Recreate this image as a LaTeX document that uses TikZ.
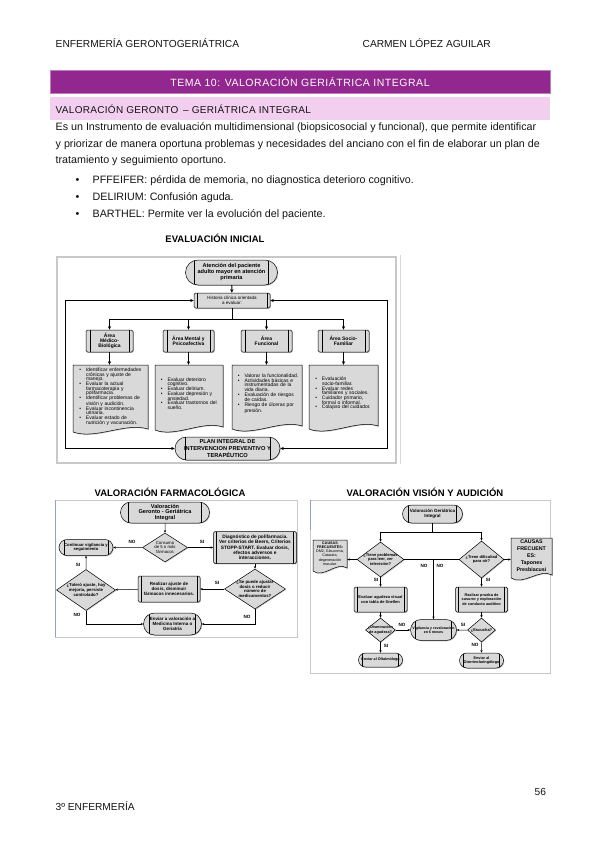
\documentclass[tikz,border=0pt]{standalone}
\usepackage{fontspec}
\setmainfont{Liberation Sans}
\newfontfamily\spacedfont[LetterSpace=5]{Liberation Sans}
\newfontfamily\pinkfont[LetterSpace=3]{Liberation Sans}
\usetikzlibrary{shapes.geometric,shapes.misc,arrows.meta,shadows,calc}
\definecolor{purplebar}{HTML}{92278F}
\definecolor{pinkbar}{HTML}{F2CEEF}
\definecolor{boxgray}{HTML}{D9D9D9}
\definecolor{framegray}{HTML}{C8C8C8}
\definecolor{textdark}{HTML}{141414}
\definecolor{edgeblue}{HTML}{8FA3C4}
\newcommand\bi{\par\noindent\llap{\textbullet\hspace{5pt}}}
\newcommand\nohy{\hyphenpenalty=10000\relax\exhyphenpenalty=10000\relax}
\newcommand\docshape[4]{%
  \pgfmathsetmacro\dxa{#1+0.3*(#3-#1)}%
  \pgfmathsetmacro\dxb{#3-0.3*(#3-#1)}%
  \draw[docsty] (#1,#2) -- (#3,#2) -- (#3,{#4-3}) .. controls (\dxb,{#4-10}) and (\dxa,{#4+8}) .. (#1,#4) -- cycle;}
\begin{document}
\begin{tikzpicture}[x=1pt,y=-1pt,
  every node/.style={inner sep=0.5pt, align=center, text=black},
  dshadow/.style={drop shadow={shadow xshift=0.8pt,shadow yshift=-0.8pt,fill=black!45}},
  bars/.style={path picture={
    \draw[line width=0.35pt] ([xshift=#1]path picture bounding box.north west) -- ([xshift=#1]path picture bounding box.south west);
    \draw[line width=0.35pt] ([xshift=-#1]path picture bounding box.north east) -- ([xshift=-#1]path picture bounding box.south east);}},
  pill/.style={rounded rectangle, draw, line width=0.5pt, fill=boxgray, dshadow},
  proc/.style={rectangle, rounded corners=1.5pt, draw, line width=0.5pt, fill=boxgray, dshadow},
  dia/.style={diamond, draw, line width=0.5pt, fill=boxgray, inner sep=-2pt, dshadow},
  docsty/.style={draw, line width=0.5pt, fill=boxgray, dshadow},
  doctxt/.style={font=\fontsize{5}{4.7}\selectfont, align=left, inner sep=0pt},
  arr/.style={-{Stealth[length=2.6pt,width=2.2pt]}, line width=0.5pt},
  tarr/.style={-{Stealth[length=3.6pt,width=3.2pt]}, line width=1pt},
  tboth/.style={{Stealth[length=3.6pt,width=3.2pt]}-{Stealth[length=3.6pt,width=3.2pt]}, line width=1pt},
  lab/.style={font=\fontsize{4.6}{5}\selectfont\bfseries},
  pagetxt/.style={anchor=west, text=textdark, font=\fontsize{10.2}{12}\selectfont},
  bodytxt/.style={pagetxt, font=\fontsize{10.7}{12}\selectfont},
  sectitle/.style={font=\fontsize{9.5}{11}\selectfont\bfseries}
]
\useasboundingbox (0,0) rectangle (599,848);
\fill[white] (0,0) rectangle (599,848);

% ---------- page text ----------
\node[pagetxt] (hl) at (55,43) {ENFERMERÍA GERONTOGERIÁTRICA};
\node[pagetxt] (hr) at (362,43) {CARMEN LÓPEZ AGUILAR};
\node[fill=purplebar, draw=purplebar!60!white, line width=0.6pt, minimum width=500pt, minimum height=23pt, text=white, font=\spacedfont\fontsize{10.5}{12}\selectfont] (bar) at (300,82) {TEMA 10: VALORACIÓN GERIÁTRICA INTEGRAL};
\node[fill=pinkbar, minimum width=500pt, minimum height=23pt] (pbar) at (300,109) {};
\node[pagetxt, font=\pinkfont\fontsize{10}{12}\selectfont] (ptxt) at (55,109) {VALORACIÓN GERONTO \,– GERIÁTRICA INTEGRAL};
\node[bodytxt] (p1) at (55,128) {Es un Instrumento de evaluación multidimensional (biopsicosocial y funcional), que permite identificar};
\node[bodytxt] (p2) at (55,145) {y priorizar de manera oportuna problemas y necesidades del anciano con el fin de elaborar un plan de};
\node[bodytxt] (p3) at (55,161) {tratamiento y seguimiento oportuno.};
\node[bodytxt] (b1) at (75,181) {\textbullet};
\node[bodytxt] (b2) at (75,198) {\textbullet};
\node[bodytxt] (b3) at (75,215) {\textbullet};
\node[bodytxt] (t1) at (92,181) {PFFEIFER: pérdida de memoria, no diagnostica deterioro cognitivo.};
\node[bodytxt] (t2) at (92,198) {DELIRIUM: Confusión aguda.};
\node[bodytxt] (t3) at (92,215) {BARTHEL: Permite ver la evolución del paciente.};
\node[sectitle] (s1) at (215,238) {EVALUACIÓN INICIAL};
\node[sectitle] (s2) at (170,492) {VALORACIÓN FARMACOLÓGICA};
\node[sectitle] (s3) at (425,492) {VALORACIÓN VISIÓN Y AUDICIÓN};
\node[pagetxt] (pg) at (534,792) {56};
\node[pagetxt] (ft) at (55,806) {3º ENFERMERÍA};

% ---------- chart 1 : evaluacion inicial ----------
\draw[framegray, line width=1.2pt] (57,257) rectangle (396,463);
\draw[framegray!70, line width=0.8pt] (400,255) -- (400,464);

\node[pill, bars=9pt, minimum width=93pt, minimum height=25pt, font=\fontsize{5.6}{6}\selectfont\bfseries] (A) at (231.5,272.5) {Atención del paciente\\adulto mayor en atención\\primaria};
\node[proc, bars=3pt, minimum width=76pt, minimum height=15pt, font=\fontsize{4.5}{5}\selectfont] (H) at (232,300.5) {Historia clínica orientada\\a evaluar:};
\draw[tarr] (A) -- (H);
\coordinate (busy) at (232,319.5);

\node[proc, bars=4pt, minimum width=47pt, minimum height=22pt, font=\fontsize{5}{5.3}\selectfont\bfseries] (M1) at (109.5,341) {Área\\Médico-\\Biológica};
\node[proc, bars=4pt, minimum width=51pt, minimum height=22pt, font=\fontsize{5}{5.3}\selectfont\bfseries] (M2) at (188.5,341) {Área Mental y\\Psicoafectiva};
\node[proc, bars=4pt, minimum width=51pt, minimum height=22pt, font=\fontsize{5}{5.3}\selectfont\bfseries] (M3) at (266.5,341) {Área\\Funcional};
\node[proc, bars=4pt, minimum width=51pt, minimum height=22pt, font=\fontsize{5}{5.3}\selectfont\bfseries] (M4) at (343.5,341) {Área Socio-\\Familiar};
\draw[tarr] (H.south) -- (busy) -| (M1.north);
\draw[tarr] (H.south) -- (busy) -| (M2.north);
\draw[tarr] (H.south) -- (busy) -| (M3.north);
\draw[tarr] (H.south) -- (busy) -| (M4.north);

\docshape{73}{365}{148}{432}
\docshape{155}{365}{223}{430}
\docshape{232}{365}{302}{429}
\docshape{309}{365}{378}{429}
\node[doctxt, text width=71pt, minimum width=75pt, minimum height=62pt] (D1) at (110.5,396) {\nohy\leftskip=11pt
 \bi Identificar enfermedades crónicas y ajuste de manejo.
 \bi Evaluar la actual farmacoterapia y polifarmacia.
 \bi Identificar problemas de visión y audición.
 \bi Evaluar incontinencia urinaria.
 \bi Evaluar estado de nutrición y vacunación.\par};
\node[doctxt, text width=63pt, minimum width=68pt, minimum height=56pt] (D2) at (189,393) {\nohy\leftskip=10pt
 \bi Evaluar deterioro cognitivo.
 \bi Evaluar delirium.
 \bi Evaluar depresión y ansiedad.
 \bi Evaluar trastornos del sueño.\par};
\node[doctxt, text width=64pt, minimum width=70pt, minimum height=56pt] (D3) at (266.5,393) {\nohy\leftskip=10pt
 \bi Valorar la funcionalidad.
 \bi Actividades básicas e instrumentadas de la vida diaria.
 \bi Evaluación de riesgos de caídas.
 \bi Riesgo de úlceras por presión.\par};
\node[doctxt, text width=65pt, minimum width=69pt, minimum height=56pt] (D4) at (343.5,393) {\nohy\leftskip=11pt
 \bi Evaluación socio-familiar.
 \bi Evaluar redes familiares y sociales.
 \bi Cuidador primario, formal o informal.
 \bi Colapso del cuidador.\par};
\draw[tarr] (M1.south) -- (M1.south |- D1.north);
\draw[tarr] (M2.south) -- (M2.south |- D2.north);
\draw[tarr] (M3.south) -- (M3.south |- D3.north);
\draw[tarr] (M4.south) -- (M4.south |- D4.north);

\node[pill, bars=10pt, minimum width=106pt, minimum height=23pt, font=\fontsize{5.7}{6.6}\selectfont\bfseries] (P) at (227.5,448.5) {PLAN INTEGRAL DE\\INTERVENCION PREVENTIVO Y\\TERAPÉUTICO};
\coordinate (L1) at (65,300.5);
\coordinate (L2) at (65,448.5);
\coordinate (R1) at (387,300.5);
\coordinate (R2) at (387,448.5);
\draw[tboth] (H.west) -- (L1) -- (L2) -- (P.west);
\draw[tboth] (H.east) -- (R1) -- (R2) -- (P.east);

% ---------- chart 2 : farmacologica ----------
\draw[framegray, line width=1pt] (55,500) rectangle (297,637);
\draw[edgeblue, line width=0.8pt] (55,500) -- (55,637);

\node[pill, bars=8pt, minimum width=90pt, minimum height=21pt, font=\fontsize{5.6}{5.8}\selectfont\bfseries] (F1) at (165,512.5) {Valoración\\Geronto - Geriátrica\\Integral};
\node[dia, minimum width=45pt, minimum height=29pt, aspect=1.55, font=\fontsize{4.3}{4.8}\selectfont] (F2) at (165,547.5) {Consumo\\de 5 o más\\fármacos};
\node[pill, bars=5pt, minimum width=55pt, minimum height=16pt, font=\fontsize{4.2}{4.8}\selectfont\bfseries] (F3) at (86,547.5) {Continuar vigilancia y\\seguimiento};
\node[proc, bars=3pt, minimum width=83pt, minimum height=32pt, font=\fontsize{4.8}{5.3}\selectfont\bfseries] (F4) at (255,547.5) {Diagnóstico de polifarmacia.\\Ver criterios de Beers, Criterios\\STOPP-START. Evaluar dosis,\\efectos adversos e\\interacciones.};
\node[dia, minimum width=61pt, minimum height=40pt, aspect=1.5, font=\fontsize{4.3}{4.8}\selectfont\bfseries] (F5) at (255,589) {¿Se puede ajustar\\dosis o reducir\\número de\\medicamentos?};
\node[proc, bars=3pt, minimum width=62pt, minimum height=26pt, font=\fontsize{4.5}{5}\selectfont\bfseries] (F6) at (169,589) {Realizar ajuste de\\dosis, disminuir\\fármacos innecesarios.};
\node[dia, minimum width=59pt, minimum height=41pt, aspect=1.45, font=\fontsize{4.3}{4.8}\selectfont\bfseries] (F7) at (86,590) {¿Toleró ajuste, hay\\mejoría, persiste\\controlado?};
\node[pill, bars=6pt, minimum width=59pt, minimum height=22pt, font=\fontsize{4.5}{5}\selectfont\bfseries] (F8) at (172.5,624) {Enviar a valoración a\\Medicina Interna o\\Geriatría};
\draw[arr] (F1) -- (F2);
\draw[arr] (F2) -- (F3);
\draw[arr] (F2) -- (F4);
\draw[arr] (F4) -- (F5);
\draw[arr] (F5) -- (F6);
\draw[arr] (F6) -- (F7);
\draw[arr] (F7) -- (F3);
\draw[arr] (F7.south) |- (F8.west);
\draw[arr] (F5.south) |- (F8.east);
\node[lab] (n1) at (132,542) {NO};
\node[lab] (n2) at (202,542) {SI};
\node[lab] (n3) at (217,583) {SI};
\node[lab] (n4) at (78,565) {SI};
\node[lab] (n5) at (77,615) {NO};
\node[lab] (n6) at (247,617) {NO};

% ---------- chart 3 : vision y audicion ----------
\draw[framegray, line width=1pt] (310,500) rectangle (550,673);
\draw[edgeblue, line width=0.8pt] (310,500) -- (310,530);

\node[pill, bars=6pt, minimum width=61pt, minimum height=18pt, font=\fontsize{4.5}{5}\selectfont\bfseries] (V1) at (432.5,514) {Valoración Geriátrica\\Integral};
\coordinate (vb) at (432.5,532);
\node[dia, minimum width=47pt, minimum height=35pt, aspect=1.35, font=\fontsize{4}{4.6}\selectfont\bfseries] (V2) at (380.5,559.5) {¿Tiene problemas\\para leer, ver\\televisión?};
\node[dia, minimum width=45pt, minimum height=37pt, aspect=1.25, font=\fontsize{4}{4.6}\selectfont\bfseries] (V3) at (481.5,559.5) {¿Tiene dificultad\\para oír?};
\draw[arr] (V1.south) -- (vb) -| (V2.north);
\draw[arr] (V1.south) -- (vb) -| (V3.north);
\docshape{313}{540}{347}{571}
\node[font=\fontsize{3.7}{4.3}\selectfont, minimum width=34pt, minimum height=27pt] (V4) at (330,553.5) {\textbf{CAUSAS}\\\textbf{FRECUENTES:}\\DM2, Glaucoma,\\Catarata,\\degeneración\\macular.};
\docshape{511}{538}{552}{578}
\node[font=\fontsize{5.3}{7}\selectfont\bfseries, minimum width=41pt, minimum height=36pt] (V5) at (531.5,556) {CAUSAS\\FRECUENT\\ES:\\Tapones\\Presbiacusi};
\draw[arr] (V2.west) -- (V2.west -| V4.east);
\draw[arr] (V3.east) -- (V3.east -| V5.west);
\node[pill, bars=5pt, minimum width=47pt, minimum height=21pt, font=\fontsize{3.6}{4.4}\selectfont\bfseries] (V6) at (433.5,630) {Vigilancia y revaloración\\en 6 meses};
\coordinate (vn) at (433.5,559.5);
\draw[arr] (V2.east) -- (vn) -- (V6.north);
\draw[line width=0.5pt] (V3.west) -- (vn);
\node[proc, bars=3pt, minimum width=53pt, minimum height=25pt, font=\fontsize{4}{4.8}\selectfont\bfseries] (V7) at (380.5,599.5) {Evaluar agudeza visual\\con tabla de Snellen};
\node[dia, minimum width=30pt, minimum height=24pt, aspect=1.3, inner sep=-3pt, font=\fontsize{3.8}{4.4}\selectfont\bfseries] (V8) at (380.5,630) {¿Disminución\\de agudeza?};
\node[pill, bars=4pt, minimum width=45pt, minimum height=14pt, font=\fontsize{3.7}{4.4}\selectfont\bfseries] (V9) at (380.5,660) {Enviar al Oftalmólogo};
\node[proc, bars=3pt, minimum width=52pt, minimum height=25pt, font=\fontsize{3.8}{4.6}\selectfont\bfseries] (V10) at (481.5,599.5) {Realizar prueba de\\susurro y exploración\\de conducto auditivo};
\node[dia, minimum width=28pt, minimum height=24pt, aspect=1.2, inner sep=-2pt, font=\fontsize{4}{4.6}\selectfont\bfseries] (V11) at (481.5,630) {¿Escucha?};
\node[pill, bars=4pt, minimum width=45pt, minimum height=15pt, font=\fontsize{3.8}{4.4}\selectfont\bfseries] (V12) at (481.5,660.5) {Enviar al\\Otorrinolaringólogo};
\draw[arr] (V2) -- (V7);
\draw[arr] (V7) -- (V8);
\draw[arr] (V8) -- (V6);
\draw[arr] (V8) -- (V9);
\draw[arr] (V3) -- (V10);
\draw[arr] (V10) -- (V11);
\draw[arr] (V11) -- (V6);
\draw[arr] (V11) -- (V12);
\node[lab] (m1) at (424,566) {NO};
\node[lab] (m2) at (440,566) {NO};
\node[lab] (m3) at (376,580) {SI};
\node[lab] (m4) at (488,580) {SI};
\node[lab] (m5) at (402,625) {NO};
\node[lab] (m6) at (386,646) {SI};
\node[lab] (m7) at (463,625) {SI};
\node[lab] (m8) at (475,645) {NO};
\end{tikzpicture}
\end{document}
